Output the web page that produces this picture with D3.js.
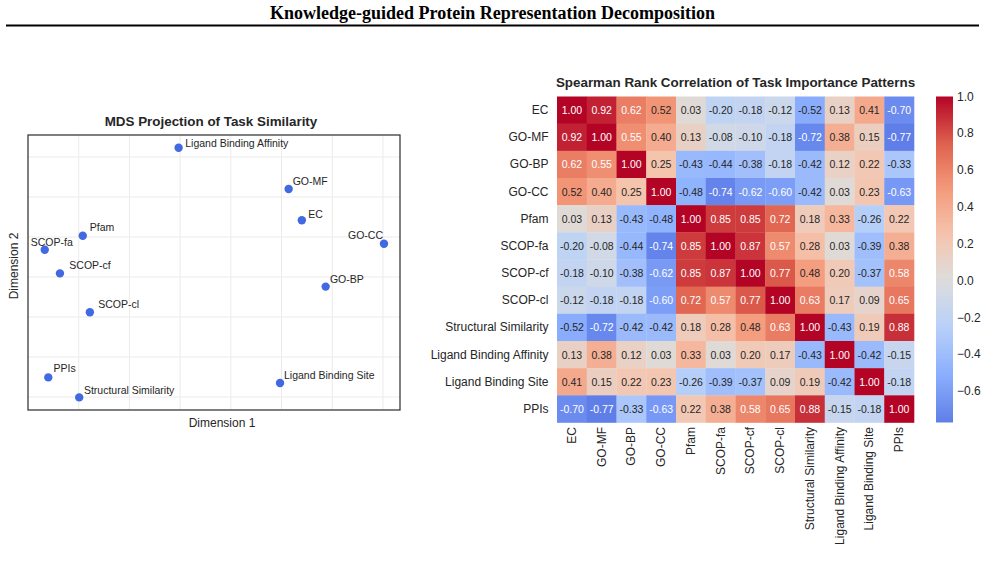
<!DOCTYPE html>
<html>
<head>
<meta charset="utf-8">
<script src="https://cdn.jsdelivr.net/npm/d3@7"></script>
<style>
  body { margin: 0; background: #fff; }
  svg text { font-family: "Liberation Sans", Arial, sans-serif; fill: #262626; }
</style>
</head>
<body>
<svg id="fig" width="985" height="562"></svg>
<script>
// ---- data ----
var tasks = ["EC", "GO-MF", "GO-BP", "GO-CC", "Pfam", "SCOP-fa", "SCOP-cf", "SCOP-cl",
    "Structural Similarity", "Ligand Binding Affinity", "Ligand Binding Site", "PPIs"];

// MDS coordinates
var mdsNames = ["Ligand Binding Affinity", "GO-MF", "EC", "GO-CC", "GO-BP", "Ligand Binding Site",
    "Pfam", "SCOP-fa", "SCOP-cf", "SCOP-cl", "PPIs", "Structural Similarity"];
var mdsX = [-0.103, 0.114, 0.140, 0.302, 0.187, 0.097, -0.292, -0.367, -0.337, -0.278, -0.360, -0.299];
var mdsY = [0.323, 0.220, 0.142, 0.083, -0.024, -0.265, 0.103, 0.068, 0.009, -0.088, -0.251, -0.301];
var gridTicks = [-0.3, -0.2, -0.1, 0, 0.1, 0.2, 0.3];

// Spearman correlation matrix, rows/cols in order of tasks
var corr = [
    [1.00, 0.92, 0.62, 0.52, 0.03, -0.20, -0.18, -0.12, -0.52, 0.13, 0.41, -0.70],
    [0.92, 1.00, 0.55, 0.40, 0.13, -0.08, -0.10, -0.18, -0.72, 0.38, 0.15, -0.77],
    [0.62, 0.55, 1.00, 0.25, -0.43, -0.44, -0.38, -0.18, -0.42, 0.12, 0.22, -0.33],
    [0.52, 0.40, 0.25, 1.00, -0.48, -0.74, -0.62, -0.60, -0.42, 0.03, 0.23, -0.63],
    [0.03, 0.13, -0.43, -0.48, 1.00, 0.85, 0.85, 0.72, 0.18, 0.33, -0.26, 0.22],
    [-0.20, -0.08, -0.44, -0.74, 0.85, 1.00, 0.87, 0.57, 0.28, 0.03, -0.39, 0.38],
    [-0.18, -0.10, -0.38, -0.62, 0.85, 0.87, 1.00, 0.77, 0.48, 0.20, -0.37, 0.58],
    [-0.12, -0.18, -0.18, -0.60, 0.72, 0.57, 0.77, 1.00, 0.63, 0.17, 0.09, 0.65],
    [-0.52, -0.72, -0.42, -0.42, 0.18, 0.28, 0.48, 0.63, 1.00, -0.43, 0.19, 0.88],
    [0.13, 0.38, 0.12, 0.03, 0.33, 0.03, 0.20, 0.17, -0.43, 1.00, -0.42, -0.15],
    [0.41, 0.15, 0.22, 0.23, -0.26, -0.39, -0.37, 0.09, 0.19, -0.42, 1.00, -0.18],
    [-0.70, -0.77, -0.33, -0.63, 0.22, 0.38, 0.58, 0.65, 0.88, -0.15, -0.18, 1.00]
];
var cbarTicks = [-0.6, -0.4, -0.2, 0.0, 0.2, 0.4, 0.6, 0.8, 1.0];

// ---- layout (not data) ----
// label offsets from the dot: [dx, dy, anchor]
var labelPos = {
    "Ligand Binding Affinity": [6.6, -4.4, "start"],
    "GO-MF": [4, -7.7, "start"],
    "EC": [6.3, -6, "start"],
    "GO-CC": [-1, -8.7, "end"],
    "GO-BP": [4.3, -7.4, "start"],
    "Ligand Binding Site": [4, -7.7, "start"],
    "Pfam": [7, -8.4, "start"],
    "SCOP-fa": [-14, -8.3, "start"],
    "SCOP-cf": [9.4, -8, "start"],
    "SCOP-cl": [8.4, -8.7, "start"],
    "PPIs": [5.3, -9, "start"],
    "Structural Similarity": [4.7, -7, "start"]
};

var svg = d3.select("#fig");

// figure title + rule
svg.append("text")
    .attr("x", 492.5).attr("y", 19)
    .attr("text-anchor", "middle")
    .style("font-family", "'Liberation Serif', 'Times New Roman', serif")
    .style("font-weight", "bold")
    .style("font-size", "18px")
    .style("fill", "#000")
    .text("Knowledge-guided Protein Representation Decomposition");
svg.append("line")
    .attr("x1", 6).attr("x2", 979).attr("y1", 25.5).attr("y2", 25.5)
    .attr("stroke", "#000").attr("stroke-width", 2);

// ---- MDS scatter ----
var mds = { left: 28, right: 400, top: 135, bottom: 410 };
var x = d3.scaleLinear().domain([-0.4, 0.3336]).range([mds.left, mds.right]);
var y = d3.scaleLinear().domain([-0.3325, 0.355]).range([mds.bottom, mds.top]);

var gm = svg.append("g");
gm.selectAll(".vgrid").data(gridTicks).enter().append("line")
    .attr("x1", d => x(d)).attr("x2", d => x(d))
    .attr("y1", mds.top).attr("y2", mds.bottom)
    .attr("stroke", "#ebebeb").attr("stroke-width", 1);
gm.selectAll(".hgrid").data(gridTicks).enter().append("line")
    .attr("y1", d => y(d)).attr("y2", d => y(d))
    .attr("x1", mds.left).attr("x2", mds.right)
    .attr("stroke", "#ebebeb").attr("stroke-width", 1);
gm.append("rect")
    .attr("x", mds.left).attr("y", mds.top)
    .attr("width", mds.right - mds.left).attr("height", mds.bottom - mds.top)
    .attr("fill", "none").attr("stroke", "#333").attr("stroke-width", 1.25);

var pts = mdsNames.map((n, i) => ({ name: n, x: mdsX[i], y: mdsY[i] }));
gm.selectAll("circle").data(pts).enter().append("circle")
    .attr("cx", d => x(d.x)).attr("cy", d => y(d.y))
    .attr("r", 4.2).attr("fill", "#4169e1");
gm.selectAll(".lbl").data(pts).enter().append("text")
    .attr("x", d => x(d.x) + labelPos[d.name][0])
    .attr("y", d => y(d.y) + labelPos[d.name][1])
    .attr("text-anchor", d => labelPos[d.name][2])
    .attr("dominant-baseline", "central")
    .style("font-size", "10.5px")
    .text(d => d.name);

svg.append("text")
    .attr("x", 211).attr("y", 125.5)
    .attr("text-anchor", "middle")
    .style("font-weight", "bold").style("font-size", "13.4px")
    .text("MDS Projection of Task Similarity");
svg.append("text")
    .attr("x", 222).attr("y", 427)
    .attr("text-anchor", "middle").style("font-size", "12px")
    .text("Dimension 1");
svg.append("text")
    .attr("transform", "translate(17.5,266) rotate(-90)")
    .attr("text-anchor", "middle").style("font-size", "12px")
    .text("Dimension 2");

// ---- heatmap ----
var hm = { left: 557, right: 914, top: 96.5, bottom: 422.5 };
var vmin = d3.min(corr, r => d3.min(r)), vmax = 1.0;

// matplotlib coolwarm control colours
var coolwarm = d3.scaleLinear()
    .domain(d3.range(9).map(i => i / 8))
    .range(["#3b4cc0", "#6282ea", "#8db0fe", "#b8d0f9", "#dddddd", "#f5c4ad", "#f49a7b", "#de604d", "#b40426"])
    .interpolate(d3.interpolateRgb);
// centred at 0: colour range symmetric around zero
var half = Math.max(Math.abs(vmin), vmax);
var color = v => coolwarm((v + half) / (2 * half));

function luminance(c) {
    var rgb = d3.rgb(c);
    var f = v => { v /= 255; return v <= 0.03928 ? v / 12.92 : Math.pow((v + 0.055) / 1.055, 2.4); };
    return 0.2126 * f(rgb.r) + 0.7152 * f(rgb.g) + 0.0722 * f(rgb.b);
}

var xb = d3.scaleBand().domain(tasks).range([hm.left, hm.right]);
var yb = d3.scaleBand().domain(tasks).range([hm.top, hm.bottom]);

var cells = [];
corr.forEach((row, i) => row.forEach((v, j) => cells.push({ r: tasks[i], c: tasks[j], v: v })));

var gh = svg.append("g");
gh.selectAll("rect").data(cells).enter().append("rect")
    .attr("x", d => xb(d.c)).attr("y", d => yb(d.r))
    .attr("width", xb.bandwidth() + 0.3).attr("height", yb.bandwidth() + 0.3)
    .attr("fill", d => color(d.v));
gh.selectAll(".ann").data(cells).enter().append("text")
    .attr("x", d => xb(d.c) + xb.bandwidth() / 2)
    .attr("y", d => yb(d.r) + yb.bandwidth() / 2)
    .attr("text-anchor", "middle").attr("dominant-baseline", "central")
    .style("font-size", "10.5px")
    .style("fill", d => luminance(color(d.v)) < 0.408 ? "#fff" : "#262626")
    .text(d => d3.format(".2f")(d.v).replace("\u2212", "-"));

// row labels
gh.selectAll(".rl").data(tasks).enter().append("text")
    .attr("x", 548.5)
    .attr("y", d => yb(d) + yb.bandwidth() / 2)
    .attr("text-anchor", "end").attr("dominant-baseline", "central")
    .style("font-size", "12px")
    .text(d => d);
// column labels
gh.selectAll(".cl").data(tasks).enter().append("text")
    .attr("transform", d => "translate(" + (xb(d) + xb.bandwidth() / 2) + "," + (hm.bottom + 4.5) + ") rotate(-90)")
    .attr("text-anchor", "end").attr("dominant-baseline", "central")
    .style("font-size", "12px")
    .text(d => d);

svg.append("text")
    .attr("x", (hm.left + hm.right) / 2).attr("y", 86.5)
    .attr("text-anchor", "middle")
    .style("font-weight", "bold").style("font-size", "13.4px")
    .text("Spearman Rank Correlation of Task Importance Patterns");

// ---- colorbar ----
var cb = { left: 936, width: 17, top: hm.top, bottom: hm.bottom };
var cy = d3.scaleLinear().domain([vmin, vmax]).range([cb.bottom, cb.top]);
var grad = svg.append("defs").append("linearGradient")
    .attr("id", "cbgrad").attr("x1", 0).attr("y1", 1).attr("x2", 0).attr("y2", 0);
grad.selectAll("stop").data(d3.range(0, 1.0001, 0.05)).enter().append("stop")
    .attr("offset", d => d)
    .attr("stop-color", d => color(vmin + d * (vmax - vmin)));
svg.append("rect")
    .attr("x", cb.left).attr("y", cb.top)
    .attr("width", cb.width).attr("height", cb.bottom - cb.top)
    .attr("fill", "url(#cbgrad)");
svg.selectAll(".cbt").data(cbarTicks).enter().append("text")
    .attr("x", cb.left + cb.width + 4)
    .attr("y", d => cy(d))
    .attr("dominant-baseline", "central")
    .style("font-size", "12px")
    .text(d => d3.format(".1f")(d));
</script>
</body>
</html>
